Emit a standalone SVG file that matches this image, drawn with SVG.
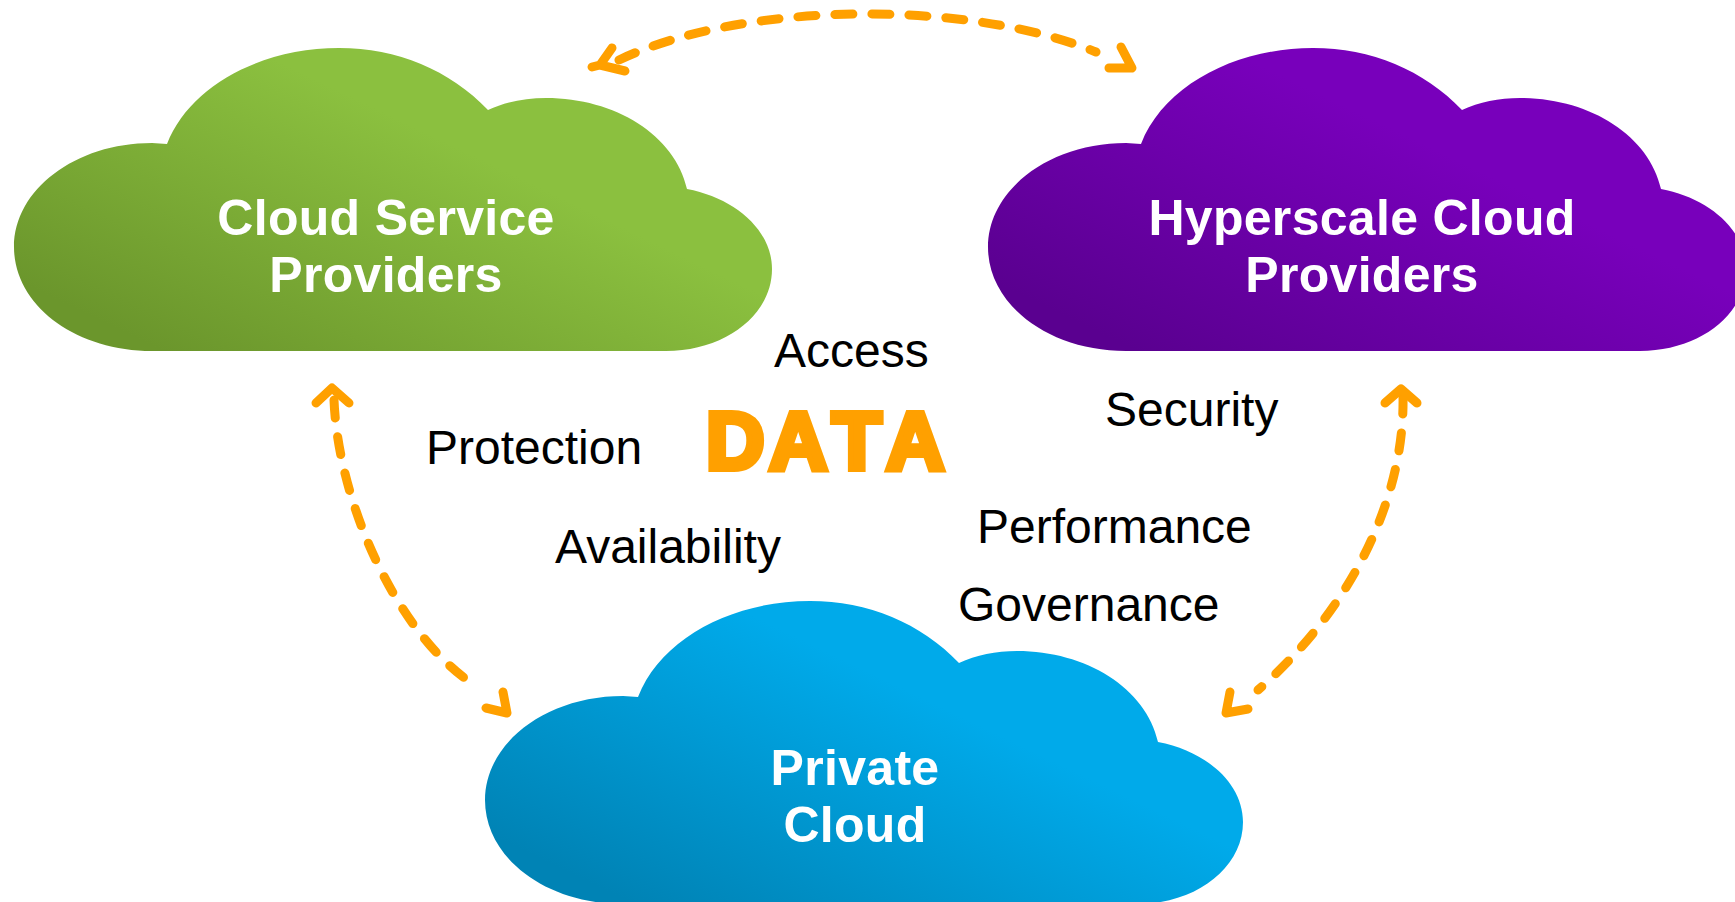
<svg xmlns="http://www.w3.org/2000/svg" width="1735" height="902" viewBox="0 0 1735 902">
<style>
.t{font-family:"Liberation Sans",Arial,sans-serif;font-size:48px;fill:#000}
.n{font-family:"Liberation Sans",Arial,sans-serif;font-size:50px;font-weight:bold;fill:#fff;text-anchor:middle;letter-spacing:.3px}
.d{font-family:"Liberation Sans",Arial,sans-serif;font-size:81px;font-weight:bold;fill:#ffa000;stroke:#ffa000;stroke-width:6px;font-kerning:none}
.c{fill:none;stroke:#ffa000;stroke-width:9;stroke-linecap:round;stroke-linejoin:round}
.dash{stroke-dasharray:18 19}
</style>
<defs>
<path id="cloud" d="M167 144C190 85 262 48 339 48C397 48 450 70 488 110C505 102 525 98 546 98C615 98 675 135 687 189C735 198 772 230 772 269C772 315 725 351 666 351L152 351C75 351 14 305 14 247C14 190 75 143 152 143Z"/>
<linearGradient id="g1" gradientUnits="userSpaceOnUse" x1="265" y1="400" x2="400" y2="120"><stop offset="0" stop-color="#6b962c"/><stop offset="1" stop-color="#8bc03f"/></linearGradient>
<linearGradient id="g2" gradientUnits="userSpaceOnUse" x1="265" y1="400" x2="400" y2="120"><stop offset="0" stop-color="#5a0090"/><stop offset="1" stop-color="#7800bb"/></linearGradient>
<linearGradient id="g3" gradientUnits="userSpaceOnUse" x1="265" y1="400" x2="400" y2="120"><stop offset="0" stop-color="#0083b5"/><stop offset="1" stop-color="#00aaea"/></linearGradient>
</defs>
<rect width="1735" height="902" fill="#fff"/>
<g id="cloud-service-providers">
<use href="#cloud" fill="url(#g1)"/>
<text class="n" x="386" y="235">Cloud Service</text>
<text class="n" x="386" y="292">Providers</text>
</g>
<g id="hyperscale-cloud-providers">
<use href="#cloud" transform="translate(974 0)" fill="url(#g2)"/>
<text class="n" x="1362" y="235">Hyperscale Cloud</text>
<text class="n" x="1362" y="292">Providers</text>
</g>
<g id="private-cloud">
<use href="#cloud" transform="translate(471 553)" fill="url(#g3)"/>
<text class="n" x="855" y="785">Private</text>
<text class="n" x="855" y="842">Cloud</text>
</g>
<g id="labels">
<text class="t" x="774" y="367">Access</text>
<text class="t" x="426" y="464">Protection</text>
<text class="t" x="555" y="563">Availability</text>
<text class="t" x="1105" y="426">Security</text>
<text class="t" x="977" y="543">Performance</text>
<text class="t" x="958" y="621">Governance</text>
<text class="d" x="706 769 832 886" y="469">DATA</text>
</g>
<g id="connectors">
<path class="c dash" d="M619 60C745 0 970 0 1096 52"/>
<path class="c" d="M612 48L600 65L625 71M600 65L592 67"/>
<path class="c" d="M1121 47L1132 68L1109 68"/>
<path class="c dash" d="M334 400C338 500 395 630 470 682"/>
<path class="c" d="M316 403L332 388L349 403"/>
<path class="c" d="M503 692L507 713L486 708"/>
<path class="c dash" d="M1403 396C1405 500 1350 610 1258 690"/>
<path class="c" d="M1385 403L1401 389L1417 403"/>
<path class="c" d="M1230 692L1226 713L1248 709"/>
</g>
</svg>
